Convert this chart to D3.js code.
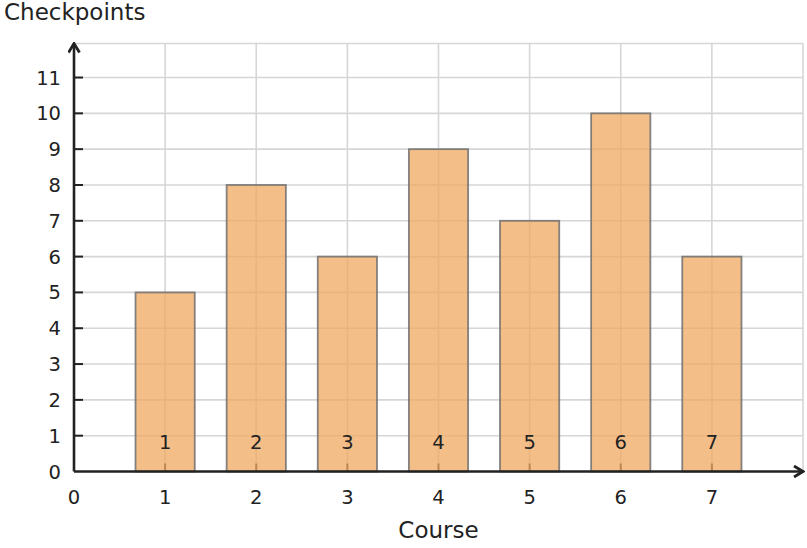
<!DOCTYPE html>
<html>
<head>
<meta charset="utf-8">
<script src="https://cdn.jsdelivr.net/npm/d3@7"></script>
<style>
  body { margin: 0; background: #fff; }
  svg text { font-family: "DejaVu Sans", sans-serif; fill: #222; }
</style>
</head>
<body>
<div id="chart"></div>
<script>
// data
var courses = [1, 2, 3, 4, 5, 6, 7];
var checkpoints = [5, 8, 6, 9, 7, 10, 6];
var xTicks = [0, 1, 2, 3, 4, 5, 6, 7];
var yTicks = [0, 1, 2, 3, 4, 5, 6, 7, 8, 9, 10, 11];

var width = 807, height = 548;
var x0 = 74, x1 = 803, y0 = 471.5, y1 = 43.5;

var svg = d3.select('#chart')
  .append('svg')
  .attr('width', width)
  .attr('height', height);

var xScale = d3.scaleLinear().domain([0, 8]).range([x0, x1]);
var yScale = d3.scaleLinear().domain([0, 11.95]).range([y0, y1]);

// grid
var grid = svg.append('g').attr('class', 'grid')
  .attr('stroke', '#d6d6d6')
  .attr('stroke-width', 1.6);

grid.selectAll('line.v')
  .data(xTicks.slice(1).concat([8]))
  .enter()
  .append('line')
  .attr('x1', d => xScale(d))
  .attr('x2', d => xScale(d))
  .attr('y1', y0)
  .attr('y2', y1);

grid.selectAll('line.h')
  .data(yTicks.slice(1).concat([11.95]))
  .enter()
  .append('line')
  .attr('x1', x0)
  .attr('x2', x1)
  .attr('y1', d => yScale(d))
  .attr('y2', d => yScale(d));

// x tick marks (under the bars)
svg.append('g')
  .selectAll('line')
  .data(xTicks.slice(1))
  .enter()
  .append('line')
  .attr('x1', d => xScale(d))
  .attr('x2', d => xScale(d))
  .attr('y1', y0)
  .attr('y2', y0 - 8)
  .attr('stroke', '#222')
  .attr('stroke-width', 2);

// bars
var barW = xScale(0.65) - xScale(0);
svg.append('g')
  .selectAll('rect')
  .data(courses)
  .enter()
  .append('rect')
  .attr('x', (d, i) => xScale(d) - barW / 2)
  .attr('y', (d, i) => yScale(checkpoints[i]))
  .attr('width', barW)
  .attr('height', (d, i) => y0 - yScale(checkpoints[i]))
  .attr('fill', '#f0a860')
  .attr('fill-opacity', 0.75)
  .attr('stroke', '#707070')
  .attr('stroke-opacity', 0.85)
  .attr('stroke-width', 1.8);

// labels in bars
svg.append('g')
  .selectAll('text')
  .data(courses)
  .enter()
  .append('text')
  .attr('x', d => xScale(d))
  .attr('y', y0 - 23)
  .attr('text-anchor', 'middle')
  .attr('font-size', 19.5)
  .text(d => d);

// axes
var defs = svg.append('defs');
defs.append('marker')
  .attr('id', 'arrow')
  .attr('viewBox', '0 0 13 13')
  .attr('refX', 11.5)
  .attr('refY', 6.5)
  .attr('markerWidth', 13)
  .attr('markerHeight', 13)
  .attr('markerUnits', 'userSpaceOnUse')
  .attr('orient', 'auto')
  .append('path')
  .attr('d', 'M2.5,1 L11.5,6.5 L2.5,12')
  .attr('fill', 'none')
  .attr('stroke', '#222')
  .attr('stroke-width', 2.8);

svg.append('line')
  .attr('x1', x0).attr('y1', y0)
  .attr('x2', x1).attr('y2', y0)
  .attr('stroke', '#222')
  .attr('stroke-width', 2.6)
  .attr('marker-end', 'url(#arrow)');

svg.append('line')
  .attr('x1', x0).attr('y1', y0)
  .attr('x2', x0).attr('y2', y1)
  .attr('stroke', '#222')
  .attr('stroke-width', 2.6)
  .attr('marker-end', 'url(#arrow)');

// y ticks
var yt = svg.append('g')
  .selectAll('g')
  .data(yTicks)
  .enter()
  .append('g');

yt.filter(d => d > 0)
  .append('line')
  .attr('x1', x0)
  .attr('x2', x0 + 9)
  .attr('y1', d => yScale(d))
  .attr('y2', d => yScale(d))
  .attr('stroke', '#222')
  .attr('stroke-width', 2);

yt.append('text')
  .attr('x', 61)
  .attr('y', d => yScale(d))
  .attr('dy', '0.36em')
  .attr('text-anchor', 'end')
  .attr('font-size', 19.5)
  .text(d => d);

// x tick labels
svg.append('g')
  .selectAll('text')
  .data(xTicks)
  .enter()
  .append('text')
  .attr('x', d => xScale(d))
  .attr('y', 504)
  .attr('text-anchor', 'middle')
  .attr('font-size', 19.5)
  .text(d => d);

// titles
svg.append('text')
  .attr('x', 4)
  .attr('y', 20)
  .attr('font-size', 23)
  .text('Checkpoints');

svg.append('text')
  .attr('x', xScale(4))
  .attr('y', 538)
  .attr('text-anchor', 'middle')
  .attr('font-size', 23)
  .text('Course');
</script>
</body>
</html>
